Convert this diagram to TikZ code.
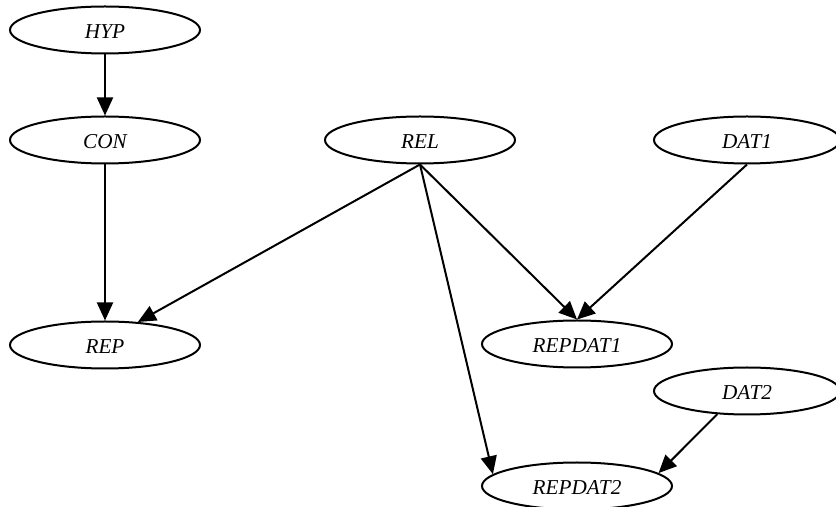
\documentclass[tikz,border=0pt]{standalone}
\usepackage{fontspec}
\setmainfont{Liberation Serif}
\usetikzlibrary{shapes.geometric,arrows.meta}
\begin{document}
\begin{tikzpicture}[x=0.5pt,y=-0.5pt,
  nd/.style={ellipse,draw,line width=1pt,inner sep=0pt,minimum height=23.5pt,
    font=\fontsize{10.6}{12}\selectfont\itshape,text height=9pt,text depth=0pt},
  wide/.style={nd,minimum width=95pt},
  mid/.style={nd,minimum width=93pt},
  edge/.style={line width=1pt,-{Triangle[length=9pt,width=8pt]}}]
\useasboundingbox (0,0) rectangle (836,507);
\node[wide] (HYP) at (105,30) {HYP};
\node[wide] (CON) at (105,140) {CON};
\node[wide] (REL) at (420,140) {REL};
\node[mid] (DAT1) at (747,140) {DAT1};
\node[wide] (REP) at (105,345) {REP};
\node[wide] (REPDAT1) at (577,344) {REPDAT1};
\node[mid] (DAT2) at (747,391) {DAT2};
\node[wide] (REPDAT2) at (577,486) {REPDAT2};
\draw[edge] (HYP.south) -- (CON.north);
\draw[edge] (CON.south) -- (REP.north);
\draw[edge] (REL.south) -- (REP.35);
\draw[edge] (REL.south) -- (REPDAT1.north);
\draw[edge] (REL.south) -- (REPDAT2.172);
\draw[edge] (DAT1.south) -- (REPDAT1.north);
\draw[edge] (DAT2.-142) -- (REPDAT2.9);
\end{tikzpicture}
\end{document}
